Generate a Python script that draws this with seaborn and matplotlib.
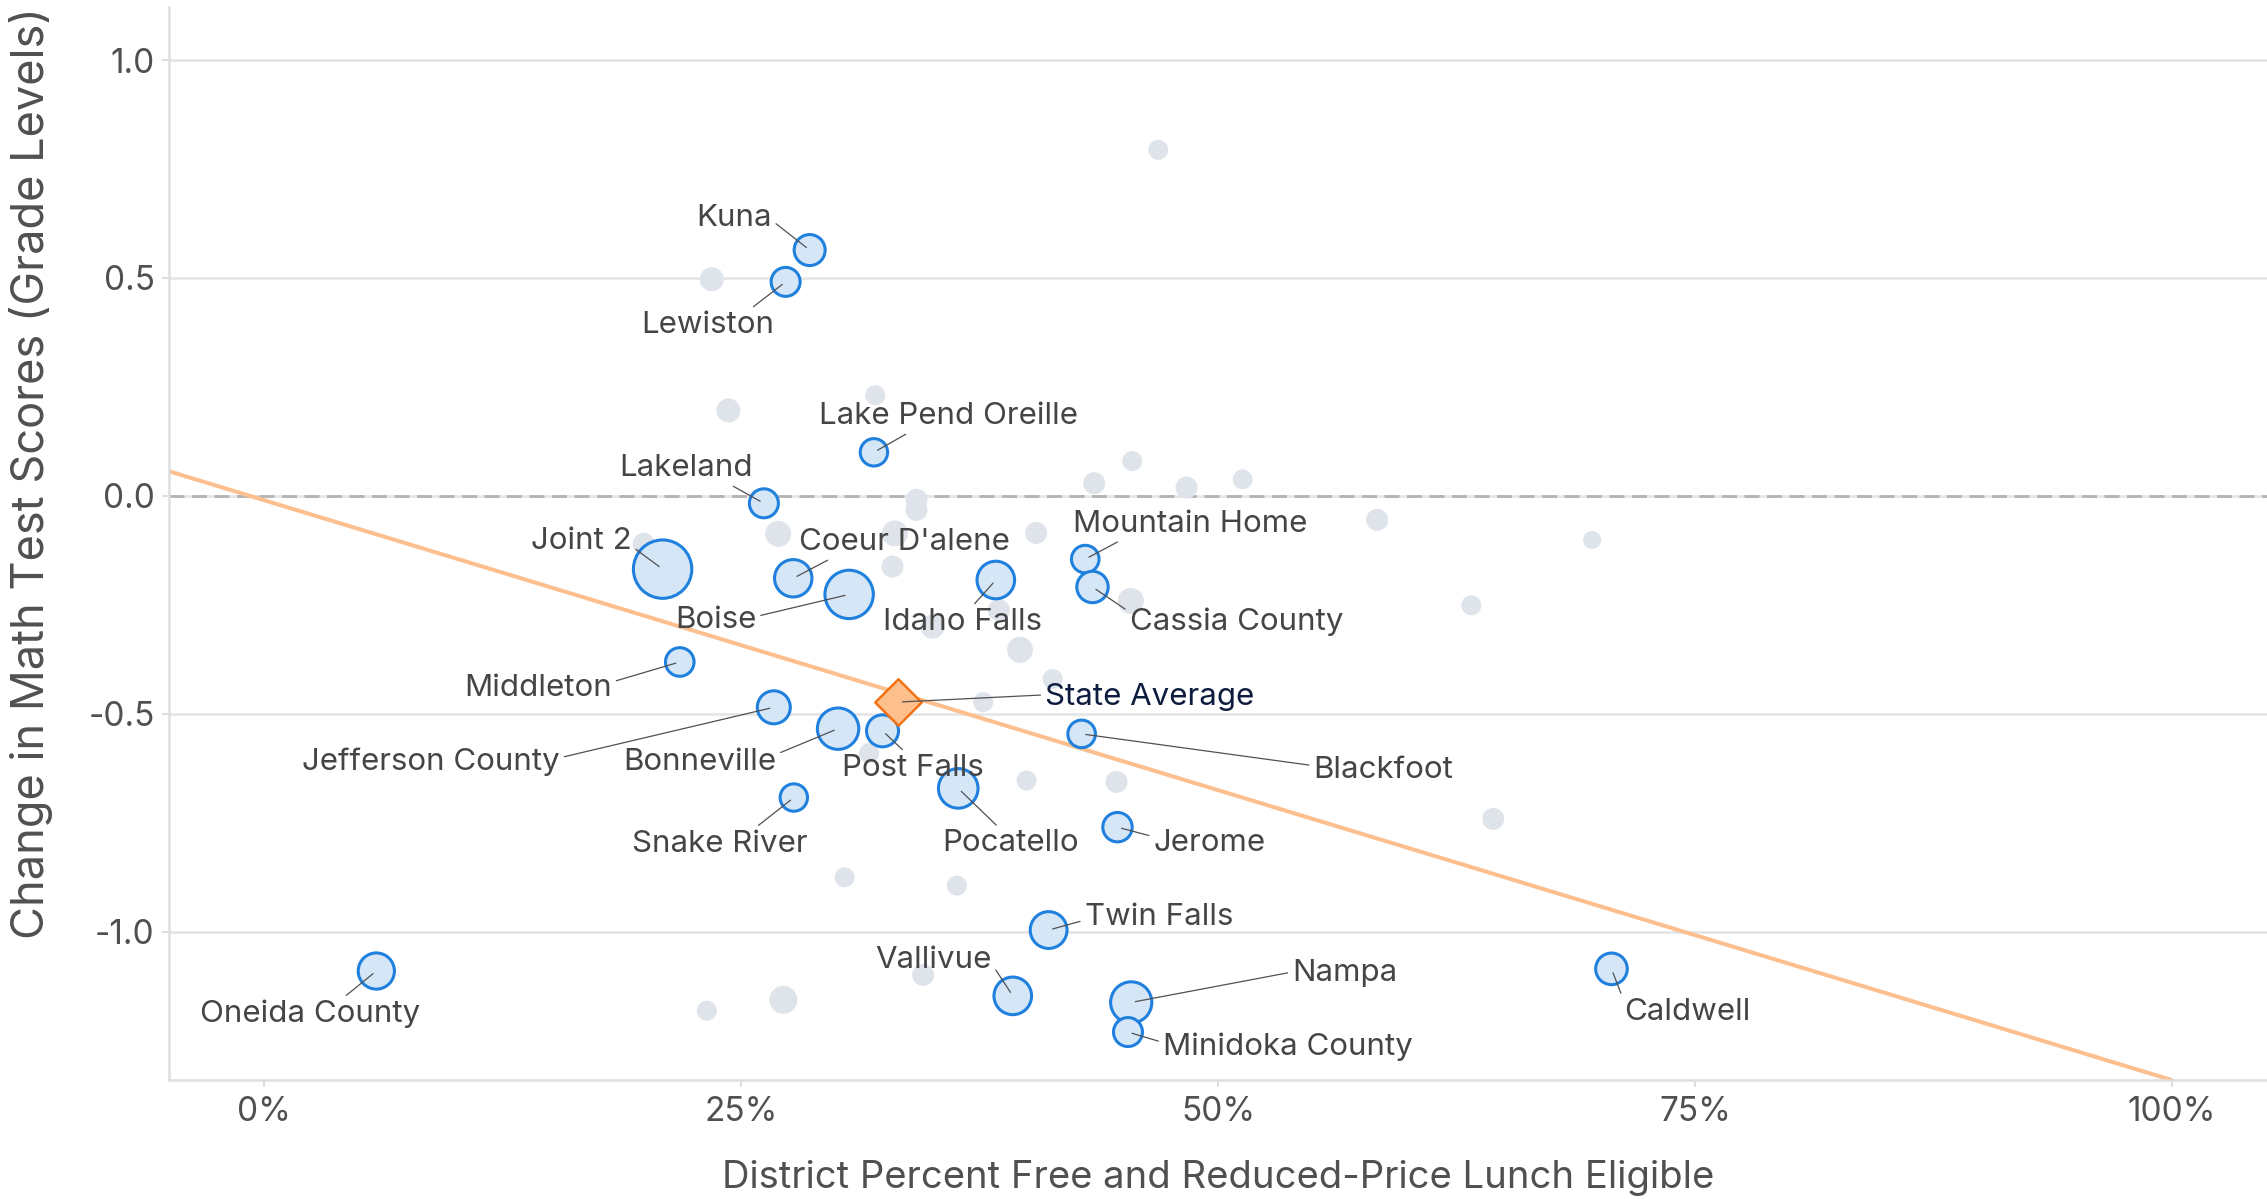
import numpy as np
import pandas as pd
import seaborn as sns
import matplotlib.pyplot as plt
from matplotlib.ticker import FuncFormatter

# labelled districts
names = ["Kuna", "Lewiston", "Lake Pend Oreille", "Lakeland", "Joint 2", "Coeur D'alene",
         "Boise", "Idaho Falls", "Mountain Home", "Cassia County", "Middleton",
         "Jefferson County", "Bonneville", "Post Falls", "Blackfoot", "Snake River",
         "Pocatello", "Jerome", "Twin Falls", "Vallivue", "Nampa", "Minidoka County",
         "Caldwell", "Oneida County"]
frl = [0.2859, 0.2733, 0.3196, 0.2619, 0.2088, 0.2773, 0.3066, 0.3835, 0.4304, 0.4342,
       0.2178, 0.2671, 0.3008, 0.3241, 0.4285, 0.2776, 0.3638, 0.4473, 0.4112, 0.3924,
       0.4545, 0.4528, 0.7063, 0.0587]
math_change = [0.564, 0.491, 0.100, -0.017, -0.168, -0.189, -0.226, -0.193, -0.145, -0.209,
               -0.381, -0.485, -0.534, -0.539, -0.546, -0.692, -0.671, -0.760, -0.996, -1.147,
               -1.162, -1.230, -1.085, -1.090]
students = [9960, 8720, 7780, 8720, 35360, 14500, 24280, 14660, 7900, 10220, 8480, 11290,
            17770, 10620, 7900, 7780, 16260, 8960, 14040, 14660, 17600, 8720, 10350, 13590]

# other districts (unlabelled)
other_frl = [0.4687, 0.2346, 0.2433, 0.3203, 0.4351, 0.4550, 0.4835, 0.5129, 0.3419, 0.3419,
             0.2694, 0.3306, 0.4047, 0.3293, 0.5834, 0.6962, 0.6328, 0.4543, 0.3503, 0.3962,
             0.4133, 0.3769, 0.3171, 0.3996, 0.4468, 0.6443, 0.3042, 0.3631, 0.3454, 0.2721,
             0.2320, 0.1988, 0.3851]
other_change = [0.794, 0.497, 0.196, 0.231, 0.029, 0.080, 0.019, 0.038, -0.009, -0.032,
                -0.087, -0.086, -0.085, -0.162, -0.055, -0.101, -0.251, -0.241, -0.300, -0.353,
                -0.420, -0.473, -0.590, -0.653, -0.656, -0.741, -0.875, -0.894, -1.099, -1.156,
                -1.181, -0.110, -0.262]
other_students = [4150, 5980, 5980, 4150, 5020, 4150, 5020, 4150, 5020, 5020,
                  7010, 7010, 5020, 5020, 5020, 3360, 4150, 7010, 5980, 7010,
                  4150, 4150, 4150, 4150, 5020, 5020, 4150, 4150, 5020, 8130,
                  4150, 5020, 5020]

state_frl = 0.3323
state_change = -0.473

# fitted trend line
trend_intercept = -0.010
trend_slope = -1.33

df = pd.DataFrame({"name": names, "frl": frl, "change": math_change, "students": students})
others = pd.DataFrame({"frl": other_frl, "change": other_change, "students": other_students})

sns.set_theme(style="white")
plt.rcParams["font.family"] = ["Inter", "DejaVu Sans"]

fig = plt.figure(figsize=(22.67, 11.99), dpi=100)
ax = fig.add_axes([169 / 2267, 119 / 1199, 2098 / 2267, 1073 / 1199])

size_kw = dict(size="students", sizes=(0, 2000), size_norm=(0, 40000), legend=False)

sns.scatterplot(data=others, x="frl", y="change", color="#dfe4ea", linewidth=0,
                ax=ax, zorder=2, **size_kw)
ax.axline((0, trend_intercept), slope=trend_slope, color="#fdbf8e", lw=2.9, zorder=2.5)
sns.scatterplot(data=df, x="frl", y="change", color="#d5e6f7", edgecolor="#1f80de",
                linewidth=2.2, ax=ax, zorder=3, **size_kw)
sns.scatterplot(x=[state_frl], y=[state_change], marker="D", s=560, color="#fdc08c",
                edgecolor="#f07214", linewidth=1.8, ax=ax, zorder=4, legend=False)

ax.axhline(0, color="#b3b3b3", lw=2, dashes=(5.4, 2.7), zorder=1.5)

# label placement: offset in pixels (x, y up), alignment, leader-line anchor
label_layout = {
    "Kuna": (-38, 24, "right", (1.0, 0.42)),
    "Lewiston": (-11, -51, "right", (0.8, 1.0)),
    "Lake Pend Oreille": (75, 28, "center", (0.36, 0.0)),
    "Lakeland": (-11, 27, "right", (0.8, 0.0)),
    "Joint 2": (-31, 20, "right", (1.0, 0.32)),
    "Coeur D'alene": (6, 28, "left", (0.17, 0.0)),
    "Boise": (-93, -34, "right", (1.0, 0.64)),
    "Idaho Falls": (-33, -50, "center", (0.55, 1.0)),
    "Mountain Home": (-12, 27, "left", (0.22, 0.0)),
    "Cassia County": (37, -43, "left", (0.0, 0.84)),
    "Middleton": (-68, -34, "right", (1.0, 0.71)),
    "Jefferson County": (-214, -63, "right", (1.0, 0.65)),
    "Bonneville": (-62, -41, "right", (1.0, 0.76)),
    "Post Falls": (30, -45, "center", (0.46, 1.0)),
    "Blackfoot": (232, -44, "left", (0.0, 0.65)),
    "Snake River": (-74, -54, "center", (0.69, 1.0)),
    "Pocatello": (52, -63, "center", (0.43, 1.0)),
    "Jerome": (36, -24, "left", (0.0, 0.73)),
    "Twin Falls": (36, 5, "left", (0.0, 0.39)),
    "Vallivue": (-21, 28, "right", (1.0, 0.36)),
    "Nampa": (161, 21, "left", (0.0, 0.55)),
    "Minidoka County": (35, -23, "left", (0.0, 0.65)),
    "Caldwell": (13, -51, "left", (0.0, 0.84)),
    "Oneida County": (-66, -51, "center", (0.64, 1.0)),
}

for name, x, y in zip(names, frl, math_change):
    dx, dy, ha, rel = label_layout[name]
    ax.annotate(name, xy=(x, y), xytext=(dx, dy), textcoords="offset pixels",
                ha=ha, va="baseline", fontsize=22.5, color="#454545", zorder=6,
                arrowprops=dict(arrowstyle="-", color="#505050", lw=0.9,
                                shrinkA=1, shrinkB=3, relpos=rel))

ax.annotate("State Average", xy=(state_frl, state_change), xytext=(147, -3),
            textcoords="offset pixels", ha="left", va="baseline", fontsize=22.5,
            color="#0d1b3e", zorder=6,
            arrowprops=dict(arrowstyle="-", color="#505050", lw=0.9,
                            shrinkA=1, shrinkB=3, relpos=(0.0, 0.58)))

ax.set_xlim(-0.05, 1.05)
ax.set_ylim(-1.34, 1.1216)
ax.set_xticks([0, 0.25, 0.5, 0.75, 1.0])
ax.set_yticks([-1.0, -0.5, 0.0, 0.5, 1.0])
ax.xaxis.set_major_formatter(FuncFormatter(lambda v, p: f"{v * 100:.0f}%"))
ax.yaxis.set_major_formatter(FuncFormatter(lambda v, p: f"{v:.1f}".replace("\u2212", "-")))

ax.yaxis.grid(True, color="#e4e4e4", lw=1.8, zorder=0)
ax.xaxis.grid(False)
ax.set_axisbelow(True)
for side in ["top", "right"]:
    ax.spines[side].set_visible(False)
for side in ["left", "bottom"]:
    ax.spines[side].set_color("#dedede")
    ax.spines[side].set_linewidth(1.8)

ax.tick_params(axis="both", which="major", length=5, width=1.4, color="#dedede",
               labelcolor="#505050", labelsize=24, bottom=True, left=True)
ax.tick_params(axis="x", pad=6.5)
ax.tick_params(axis="y", pad=5.3)

ax.set_xlabel("District Percent Free and Reduced-Price Lunch Eligible", fontsize=27.5,
              color="#505050")
ax.xaxis.set_label_coords(0.5, (1080 - 1188) / 1073)
ax.xaxis.label.set_va("baseline")
ax.set_ylabel("Change in Math Test Scores (Grade Levels)", fontsize=32.5, color="#505050")
ax.yaxis.set_label_coords((31 - 169) / 2098, (1080 - 473.5) / 1073)
ax.yaxis.label.set_va("center")

fig.savefig("out.png", dpi=100, facecolor="white")
